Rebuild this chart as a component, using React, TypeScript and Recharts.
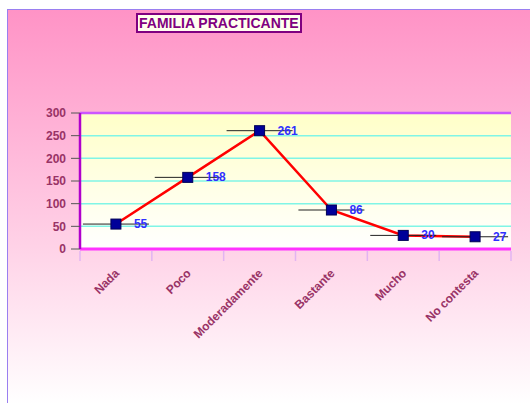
import { LineChart, Line, XAxis, YAxis, CartesianGrid, LabelList, ReferenceLine } from 'recharts';

const categories = ['Nada', 'Poco', 'Moderadamente', 'Bastante', 'Mucho', 'No contesta'];
const values = [55, 158, 261, 86, 30, 27];
const yTicks = [0, 50, 100, 150, 200, 250, 300];

const data = categories.map((name, i) => ({ name, value: values[i] }));

const FONT = '"Liberation Sans", Arial, sans-serif';
const CHART_W = 530;
const CHART_H = 403;
const MARGIN = { top: 113, right: 19, left: 30, bottom: 94 };
const Y_AXIS_W = 50;
const BAND = (CHART_W - MARGIN.left - MARGIN.right - Y_AXIS_W) / categories.length;

const renderDot = (props: any) => {
    const { cx, cy, index } = props;
    return (
        <g key={`dot-${index}`}>
            <line x1={cx - 33} y1={cy} x2={cx + 33} y2={cy} stroke="#222" strokeWidth={1} />
            <rect x={cx - 5} y={cy - 5} width={10} height={10} fill="#000099" stroke="#000055" strokeWidth={1} />
        </g>
    );
};

const renderLabel = (props: any) => {
    const { x, y, value } = props;
    return (
        <text x={x + 18} y={y + 4} fill="#3030ff" fontSize={12} fontWeight="bold" fontFamily={FONT}>
            {value}
        </text>
    );
};

const XTick = (props: any) => {
    const { x, y, payload, index } = props;
    const top = y - 10;
    return (
        <g>
            <line x1={x - BAND / 2} y1={top} x2={x - BAND / 2} y2={top + 10} stroke="#e2b4f2" strokeWidth={1.5} />
            {index === categories.length - 1 && (
                <line x1={x + BAND / 2} y1={top} x2={x + BAND / 2} y2={top + 10} stroke="#e2b4f2" strokeWidth={1.5} />
            )}
            <text
                transform={`translate(${x + 4},${top + 23}) rotate(-45)`}
                textAnchor="end"
                fill="#993366"
                fontSize={12}
                fontWeight="bold"
                fontFamily={FONT}
            >
                {payload.value}
            </text>
        </g>
    );
};

export default function App() {
    return (
        <div style={{ position: 'absolute', left: 0, top: 0, width: CHART_W, height: CHART_H, overflow: 'hidden' }}>
            <div
                style={{
                    position: 'absolute',
                    left: 7,
                    top: 9,
                    width: CHART_W - 7,
                    height: CHART_H - 9,
                    borderLeft: '1px solid #9a7ff0',
                    borderTop: '1px solid #9a7ff0',
                    background: 'linear-gradient(to bottom, #ff93c6 0%, #ffd2e7 60%, #ffffff 100%)',
                }}
            />
            <div
                style={{
                    position: 'absolute',
                    left: 136,
                    top: 13,
                    border: '2px solid #800080',
                    background: '#ffffee',
                    color: '#800080',
                    fontFamily: FONT,
                    fontWeight: 'bold',
                    fontSize: 14,
                    lineHeight: '16px',
                    padding: '0 1px',
                    whiteSpace: 'nowrap',
                }}
            >
                FAMILIA PRACTICANTE
            </div>
            <div style={{ position: 'absolute', left: 0, top: 0 }}>
                <LineChart width={CHART_W} height={CHART_H} data={data} margin={MARGIN}>
                    <defs>
                        <linearGradient id="plotBg" x1="0" y1="0" x2="0" y2="1">
                            <stop offset="0%" stopColor="#ffffc8" />
                            <stop offset="100%" stopColor="#ffffff" />
                        </linearGradient>
                    </defs>
                    <CartesianGrid
                        yAxisId={0}
                        syncWithTicks
                        vertical={false}
                        stroke="#80f5e6"
                        strokeWidth={1.5}
                        fill="url(#plotBg)"
                        fillOpacity={1}
                    />
                    <XAxis
                        dataKey="name"
                        padding={{ left: BAND / 2, right: BAND / 2 }}
                        axisLine={{ stroke: '#ff33ff', strokeWidth: 3 }}
                        tickLine={false}
                        tickSize={10}
                        tick={<XTick />}
                        interval={0}
                        height={60}
                    />
                    <YAxis
                        yAxisId={0}
                        domain={[0, 300]}
                        ticks={yTicks}
                        interval={0}
                        width={Y_AXIS_W}
                        axisLine={{ stroke: '#b000cc', strokeWidth: 2.5 }}
                        tickLine={{ stroke: '#555' }}
                        tickSize={9}
                        tickMargin={5}
                        tick={{ fill: '#993366', fontSize: 12, fontWeight: 'bold', fontFamily: FONT }}
                    />
                    <YAxis
                        yAxisId="right"
                        orientation="right"
                        domain={[0, 300]}
                        ticks={yTicks}
                        interval={0}
                        width={0}
                        tick={false}
                        tickLine={false}
                        axisLine={{ stroke: '#ff33ff', strokeWidth: 2.5 }}
                    />
                    <ReferenceLine yAxisId={0} y={300} stroke="#cc55ff" strokeWidth={2.5} />
                    <Line
                        yAxisId={0}
                        type="linear"
                        dataKey="value"
                        stroke="#ff0000"
                        strokeWidth={2.5}
                        dot={renderDot}
                        activeDot={false}
                        isAnimationActive={false}
                    >
                        <LabelList dataKey="value" content={renderLabel} />
                    </Line>
                </LineChart>
            </div>
        </div>
    );
}
